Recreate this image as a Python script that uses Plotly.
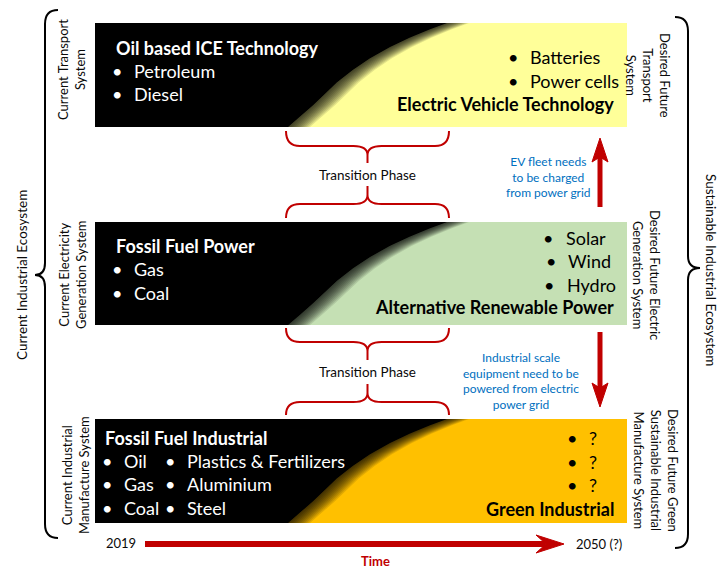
import plotly.graph_objects as go

# text content of the diagram
top_left_title = "Oil based ICE Technology"
top_left_items = ["Petroleum", "Diesel"]
top_right_items = ["Batteries", "Power cells"]
top_right_title = "Electric Vehicle Technology"

mid_left_title = "Fossil Fuel Power"
mid_left_items = ["Gas", "Coal"]
mid_right_items = ["Solar", "Wind", "Hydro"]
mid_right_title = "Alternative Renewable Power"

bot_left_title = "Fossil Fuel Industrial"
bot_col1_items = ["Oil", "Gas", "Coal"]
bot_col2_items = ["Plastics & Fertilizers", "Aluminium", "Steel"]
bot_right_items = ["?", "?", "?"]
bot_right_title = "Green Industrial"

left_labels = ["Current Transport<br>System",
               "Current Electricity<br>Generation System",
               "Current Industrial<br>Manufacture System"]
right_labels = ["Desired Future<br>Transport<br>System",
                "Desired Future Electric<br>Generation System",
                "Desired Future Green<br>Sustainable Industrial<br>Manufacture System"]
left_group = "Current Industrial Ecosystem"
right_group = "Sustainable Industrial Ecosystem"
transition_label = "Transition Phase"
notes = ["EV fleet needs<br>to be charged<br>from power grid",
         "Industrial scale<br>equipment need to be<br>powered from electric<br>power grid"]
years = ["2019", "2050 (?)"]
time_label = "Time"

FONT = "Lato"
RED = "#C00000"
BLUE = "#0070C0"
INK = "#0a0a0a"

# boxes: (top, bottom, colour of future side)
boxes = [(23, 127, "#FFFF99"), (222, 325, "#C5E0B4"), (419, 523, "#FFC000")]
BOX_X0, BOX_X1 = 95, 627
# shape of the black -> colour boundary (x, fraction of height from bottom)
boundary = [(288, 0.0), (300, 0.1), (313, 0.21), (325, 0.32), (337, 0.43),
            (353, 0.55), (370, 0.66), (390, 0.77), (410, 0.86), (430, 0.94),
            (447, 1.0)]

shapes = []
annotations = []


def black_region(top, bottom, dx):
    h = bottom - top
    pts = [(x + dx, bottom - f * h) for x, f in boundary]
    path = f"M {BOX_X0},{top} L {pts[-1][0]},{top} "
    for x, y in reversed(pts):
        path += f"L {x},{y} "
    path += f"L {BOX_X0},{bottom} Z"
    return path


for top, bottom, col in boxes:
    shapes.append(dict(type="rect", x0=BOX_X0, x1=BOX_X1, y0=top, y1=bottom,
                       fillcolor=col, line=dict(width=0)))
    shapes.append(dict(type="path", path=black_region(top, bottom, 0),
                       fillcolor="black", line=dict(width=0)))
    for dx in range(2, 24, 2):
        shapes.append(dict(type="path", path=black_region(top, bottom, dx),
                           fillcolor="rgba(0,0,0,0.11)", line=dict(width=0)))


def hbrace(x0, x1, y_end, y_mid, y_tip, y_stem, r=14):
    xc = (x0 + x1) / 2
    return (f"M {x0},{y_end} Q {x0},{y_mid} {x0 + r},{y_mid} L {xc - r},{y_mid} "
            f"Q {xc},{y_mid} {xc},{y_tip} L {xc},{y_stem} M {xc},{y_tip} "
            f"Q {xc},{y_mid} {xc + r},{y_mid} L {x1 - r},{y_mid} "
            f"Q {x1},{y_mid} {x1},{y_end}")


# transition braces
for y_end, y_mid, y_tip, y_stem in [(131, 146, 155, 163), (218, 204, 195, 186),
                                    (328, 342, 351, 360), (415, 402, 393, 384)]:
    shapes.append(dict(type="path", path=hbrace(286, 449, y_end, y_mid, y_tip, y_stem),
                       line=dict(color=RED, width=2)))
for y in [175, 372]:
    annotations.append(dict(x=367, y=y, text=transition_label, showarrow=False,
                            font=dict(family=FONT, size=13.5, color=INK)))

# big black braces
shapes.append(dict(type="path", line=dict(color="black", width=2),
                   path="M 58,10 Q 45,10 45,24 L 45,263 Q 45,275 35,275 "
                        "Q 45,275 45,287 L 45,524 Q 45,538 58,538"))
shapes.append(dict(type="path", line=dict(color="black", width=2),
                   path="M 675,17 Q 688,17 688,31 L 688,256 Q 688,268 700,268 "
                        "Q 688,268 688,280 L 688,534 Q 688,548 675,548"))

# vertical red arrows
shapes.append(dict(type="line", x0=600, x1=600, y0=207, y1=156,
                   line=dict(color=RED, width=5)))
shapes.append(dict(type="path", path="M 600,138 L 608,162 L 600,157 L 592,162 Z",
                   fillcolor=RED, line=dict(color=RED, width=1)))
shapes.append(dict(type="line", x0=600, x1=600, y0=332, y1=390,
                   line=dict(color=RED, width=5)))
shapes.append(dict(type="path", path="M 600,407 L 608,383 L 600,388 L 592,383 Z",
                   fillcolor=RED, line=dict(color=RED, width=1)))

# time arrow
shapes.append(dict(type="line", x0=145, x1=545, y0=544, y1=544,
                   line=dict(color=RED, width=6)))
shapes.append(dict(type="path", path="M 564,544 L 536,535 L 546,544 L 536,553 Z",
                   fillcolor=RED, line=dict(color=RED, width=1)))


def txt(x, y, s, size=18, color="white", anchor="left", bold=False):
    if bold:
        s = f"<b>{s}</b>"
    annotations.append(dict(x=x, y=y, text=s, showarrow=False, xanchor=anchor,
                            yanchor="middle",
                            font=dict(family=FONT, size=size, color=color)))


def bullets(xb, xt, ys, items, color):
    for y, item in zip(ys, items):
        txt(xb, y, "•", color=color, anchor="center")
        txt(xt, y, item, color=color)


# top row
txt(114, 48, top_left_title, bold=True)
bullets(117, 132, [71, 94], top_left_items, "white")
bullets(513, 528, [57, 81], top_right_items, "black")
txt(616, 104, top_right_title, color="black", anchor="right", bold=True)

# middle row
txt(114, 246, mid_left_title, bold=True)
bullets(117, 132, [269, 293], mid_left_items, "white")
for xb, xt, y, item in zip([548, 551, 549], [564, 566, 565], [238, 261, 285],
                           mid_right_items):
    txt(xb, y, "•", color="black", anchor="center")
    txt(xt, y, item, color="black")
txt(616, 307, mid_right_title, color="black", anchor="right", bold=True)

# bottom row
txt(103, 438, bot_left_title, bold=True)
bullets(107, 122, [461, 484, 508], bot_col1_items, "white")
bullets(170, 185, [461, 484, 508], bot_col2_items, "white")
bullets(572, 587, [438, 462, 485], bot_right_items, "black")
txt(616, 509, bot_right_title, color="black", anchor="right", bold=True)

# side labels
for x, y, s in zip([71, 72, 75], [70, 275, 475], left_labels):
    annotations.append(dict(x=x, y=y, text=s, showarrow=False, textangle=-90,
                            xanchor="center", yanchor="middle",
                            font=dict(family=FONT, size=13, color=INK)))
for x, y, s in zip([648, 647, 656], [75, 275, 470], right_labels):
    annotations.append(dict(x=x, y=y, text=s, showarrow=False, textangle=90,
                            xanchor="center", yanchor="middle",
                            font=dict(family=FONT, size=13, color=INK)))
annotations.append(dict(x=22, y=275, text=left_group, showarrow=False, textangle=-90,
                        font=dict(family=FONT, size=13.5, color=INK)))
annotations.append(dict(x=711, y=270, text=right_group, showarrow=False, textangle=90,
                        font=dict(family=FONT, size=13.5, color=INK)))

# blue notes
annotations.append(dict(x=548, y=177, text=notes[0], showarrow=False,
                        font=dict(family=FONT, size=12, color=BLUE)))
annotations.append(dict(x=521, y=381, text=notes[1], showarrow=False,
                        font=dict(family=FONT, size=12, color=BLUE)))

# time axis labels
txt(104, 543, years[0], size=13, color=INK)
txt(574, 544, years[1], size=13, color=INK)
txt(375, 561, time_label, size=13, color=RED, anchor="center", bold=True)

fig = go.Figure()
fig.update_layout(
    width=718, height=568,
    margin=dict(l=0, r=0, t=0, b=0, pad=0),
    paper_bgcolor="white", plot_bgcolor="white",
    xaxis=dict(range=[0, 718], visible=False, fixedrange=True),
    yaxis=dict(range=[568, 0], visible=False, fixedrange=True),
    shapes=shapes, annotations=annotations, showlegend=False,
)
fig.write_html("out.html", config={"displayModeBar": False},
               post_script="document.body.style.margin='0';")
